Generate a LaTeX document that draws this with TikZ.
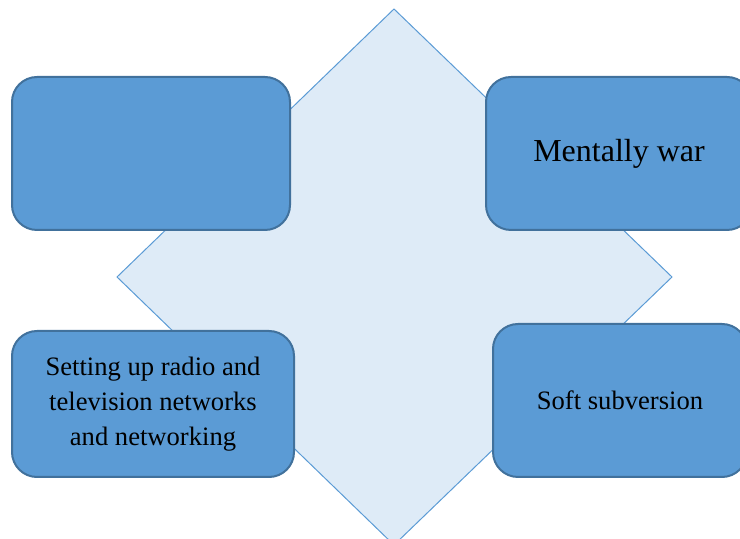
\documentclass[tikz,border=0pt]{standalone}
\usepackage{fontspec}
\setmainfont{Liberation Serif}
\usepackage{tikz}
\usetikzlibrary{positioning}

\definecolor{boxfill}{HTML}{5B9BD5}
\definecolor{boxline}{HTML}{41719C}
\definecolor{diafill}{HTML}{DEEBF7}
\definecolor{dialine}{HTML}{5B9BD5}

\begin{document}
\begin{tikzpicture}[x=0.5pt, y=-0.5pt,
    item/.style = {draw=boxline, fill=boxfill, line width=1pt, rounded corners=12.5pt,
                   align=center, inner sep=0pt, font=\fontsize{13.3}{17.5}\selectfont}]

    \useasboundingbox (0,0) rectangle (740,539);

    \draw[draw=dialine, fill=diafill, line width=0.5pt]
        (394,9) coordinate (top) -- (672,277) coordinate (right)
        -- (394,545) coordinate (bottom) -- (117,277) coordinate (left) -- cycle;

    \node[item, minimum width=139pt, minimum height=76.5pt] (empty) at (151,153.5) {};
    \node[item, minimum width=133pt, minimum height=76.5pt,
          font=\fontsize{16}{19}\selectfont] (mental) at (619,153.5) {Mentally war};
    \node[item, minimum width=141pt, minimum height=73pt] (radio) at (153,404)
        {Setting up radio and\\television networks\\and networking};
    \node[item, minimum width=127pt, minimum height=76.5pt] (soft) at (620,400.5) {Soft subversion};

\end{tikzpicture}
\end{document}
